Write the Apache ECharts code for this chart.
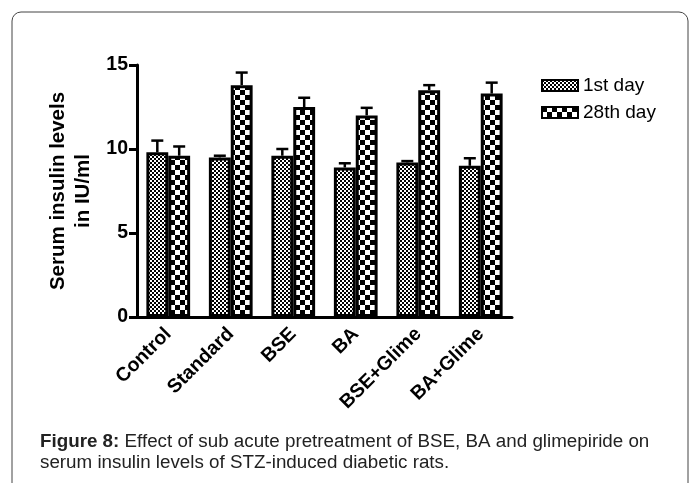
<!DOCTYPE html>
<html><head><meta charset="utf-8">
<script src="https://cdn.jsdelivr.net/npm/echarts@6/dist/echarts.min.js"></script>
<style>html,body{margin:0;padding:0;background:#fff}#c{width:691px;height:483px}</style>
</head><body><div id="c"></div>
<script>
const categories = ['Control','Standard','BSE','BA','BSE+Glime','BA+Glime'];
const day1 = [9.8, 9.5, 9.6, 8.9, 9.2, 9.0];
const day1Err = [0.7, 0.1, 0.4, 0.25, 0.08, 0.45];
const day28 = [9.6, 13.8, 12.5, 12.0, 13.5, 13.3];
const day28Err = [0.55, 0.75, 0.55, 0.45, 0.3, 0.65];
const yTicks = [0, 5, 10, 15];
const seriesNames = ['1st day', '28th day'];

function checker(cell){
  const c = document.createElement('canvas');
  c.width = cell*2; c.height = cell*2;
  const g = c.getContext('2d');
  g.fillStyle = '#fff'; g.fillRect(0,0,cell*2,cell*2);
  g.fillStyle = '#000';
  g.fillRect(0,0,cell,cell); g.fillRect(cell,cell,cell,cell);
  return c;
}
const pat1 = {image: checker(2), repeat: 'repeat'};
const pat2 = {image: checker(5), repeat: 'repeat'};

const FONT = 'Liberation Sans, Arial, sans-serif';
const chart = echarts.init(document.getElementById('c'));
const GAP = 0.3;
const errData = [];
day1.forEach((v,i)=>errData.push([i, 0, v, day1Err[i]]));
day28.forEach((v,i)=>errData.push([i, 1, v, day28Err[i]]));

chart.setOption({
  animation: false,
  grid: {left: 137, right: 179, top: 65, bottom: 166},
  legend: {
    left: 536, top: 71, orient: 'vertical', itemGap: 8, icon: 'rect',
    itemWidth: 36, itemHeight: 11,
    textStyle: {fontFamily: FONT, fontSize: 19, color: '#000'},
    data: seriesNames
  },
  xAxis: {
    type: 'category', data: categories,
    axisLine: {lineStyle: {color: '#000', width: 3}},
    axisTick: {alignWithLabel: true, length: 8, lineStyle: {color: '#000', width: 3}},
    axisLabel: {rotate: 45, interval: 0, margin: 14, color: '#000', fontWeight: 'bold',
      fontFamily: FONT, fontSize: 19.5}
  },
  yAxis: {
    type: 'value', min: 0, max: 15, interval: 5,
    name: 'Serum insulin levels\nin IU/ml', nameLocation: 'middle', nameGap: 39,
    nameTextStyle: {color: '#000', fontWeight: 'bold', fontFamily: FONT, fontSize: 20.5, lineHeight: 25},
    axisLine: {show: true, lineStyle: {color: '#000', width: 3}},
    axisTick: {show: true, length: 8, lineStyle: {color: '#000', width: 3}},
    axisLabel: {color: '#000', fontWeight: 'bold', fontFamily: FONT, fontSize: 19.5, margin: 9,
      formatter: v => yTicks.includes(v) ? String(v) : ''},
    splitLine: {show: false}
  },
  series: [
    {name: seriesNames[0], type: 'bar', data: day1, barGap: '0%', barCategoryGap: (GAP*100)+'%',
     itemStyle: {color: pat1, borderColor: '#000', borderWidth: 3}},
    {name: seriesNames[1], type: 'bar', data: day28, barGap: '0%', barCategoryGap: (GAP*100)+'%',
     itemStyle: {color: pat2, borderColor: '#000', borderWidth: 3}},
    {type: 'custom', z: 5, data: errData,
     renderItem: function(params, api){
       const cat = api.value(0), s = api.value(1), v = api.value(2), e = api.value(3);
       const band = api.size([1, 0])[0];
       const bw = band*(1-GAP)/2;
       const cx = api.coord([cat, 0])[0] + (s === 0 ? -bw/2 : bw/2);
       const yTop = api.coord([cat, v])[1];
       const yErr = api.coord([cat, v+e])[1];
       const st = {stroke: '#000', lineWidth: 2.5};
       return {type: 'group', children: [
         {type: 'line', shape: {x1: cx, y1: yTop, x2: cx, y2: yErr}, style: st},
         {type: 'line', shape: {x1: cx-6, y1: yErr, x2: cx+6, y2: yErr}, style: st}
       ]};
     }}
  ],
  graphic: [
    {type: 'rect', shape: {x: 12, y: 12, width: 676, height: 500, r: 9},
     style: {fill: 'none', stroke: '#444', lineWidth: 1}},
    {type: 'text', left: 40, top: 431,
     style: {text: '{b|Figure 8:} Effect of sub acute pretreatment of BSE, BA and glimepiride on\nserum insulin levels of STZ-induced diabetic rats.',
       fontFamily: FONT, fontSize: 18.8, lineHeight: 21.5, fill: '#222',
       rich: {b: {fontWeight: 'bold', fontFamily: FONT, fontSize: 18.8, fill: '#222'}}}}
  ]
});
</script></body></html>
